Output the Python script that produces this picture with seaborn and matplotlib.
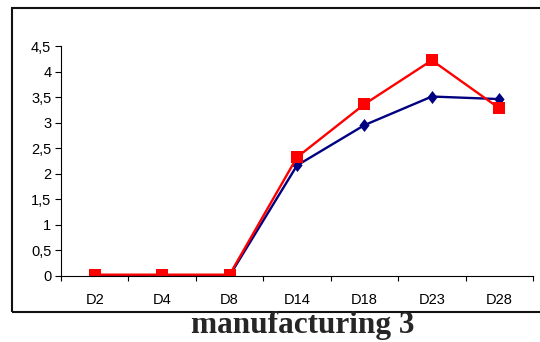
import matplotlib
matplotlib.use("Agg")
import matplotlib.pyplot as plt
from matplotlib.patches import Rectangle
from matplotlib.ticker import FixedLocator, NullFormatter
import seaborn as sns
import pandas as pd

days = ["D2", "D4", "D8", "D14", "D18", "D23", "D28"]
series_a = [0.0, 0.0, 0.0, 2.16, 2.95, 3.51, 3.46]
series_b = [0.02, 0.02, 0.02, 2.32, 3.36, 4.22, 3.28]
y_ticks = [0, 0.5, 1, 1.5, 2, 2.5, 3, 3.5, 4, 4.5]
y_labels = ["0", "0,5", "1", "1,5", "2", "2,5", "3", "3,5", "4", "4,5"]
title = "manufacturing 3"

df = pd.DataFrame({
    "day": days * 2,
    "pos": list(range(len(days))) * 2,
    "value": series_a + series_b,
    "series": ["A"] * len(days) + ["B"] * len(days),
})

sns.set_style("white")
plt.rcParams["font.family"] = ["Liberation Sans", "DejaVu Sans"]

W, H = 540, 342
fig = plt.figure(figsize=(W / 100, H / 100), dpi=100)
ax = fig.add_axes([61 / W, 1 - 275.7 / H, 472 / W, 229.7 / H])

sns.lineplot(
    data=df, x="pos", y="value", hue="series", style="series",
    palette={"A": "#000080", "B": "#FF0000"},
    markers={"A": "D", "B": "s"}, dashes=False,
    linewidth=1.7, markeredgewidth=0,
    legend=False, ax=ax,
)
# slightly tall diamonds for series A, squares for series B
tall_diamond = [(0, 1), (0.78, 0), (0, -1), (-0.78, 0), (0, 1)]
for line in ax.get_lines():
    if line.get_marker() == "s":
        line.set_markersize(8.6)
    else:
        line.set_marker(tall_diamond)
        line.set_markersize(9.4)
        line.set_markeredgewidth(0)

ax.set_xlim(-0.5, len(days) - 0.5)
ax.set_ylim(0, 4.5)
ax.set_xticks(range(len(days)))
ax.set_xticklabels(days)
ax.xaxis.set_minor_locator(FixedLocator([i - 0.5 for i in range(len(days) + 1)]))
ax.xaxis.set_minor_formatter(NullFormatter())
ax.tick_params(axis="x", which="major", length=0, pad=12.5, labelsize=10.5, colors="black")
ax.tick_params(axis="x", which="minor", length=3.5, width=0.8, direction="out",
               bottom=True, color="black")
ax.set_yticks(y_ticks)
ax.set_yticklabels(y_labels)
ax.tick_params(axis="y", length=4, width=0.8, direction="out", left=True,
               labelsize=10.5, pad=3, colors="black")

for side in ["top", "right"]:
    ax.spines[side].set_visible(False)
for side in ["left", "bottom"]:
    ax.spines[side].set_color("black")
    ax.spines[side].set_linewidth(0.8)
ax.set_xlabel("")
ax.set_ylabel("")

# outer frame around the plot area
frame = Rectangle((11.7 / W, 1 - 311.7 / H), 1.0, (311.7 - 8) / H,
                  transform=fig.transFigure, fill=False, edgecolor="#111111",
                  linewidth=1.5, clip_on=False)
fig.patches.append(frame)

fig.text(303 / W, 1 - 333 / H, title, ha="center", va="baseline",
         fontsize=22.5, fontweight="bold", family=["Liberation Serif", "DejaVu Serif"])

fig.savefig("out.png", dpi=100)
